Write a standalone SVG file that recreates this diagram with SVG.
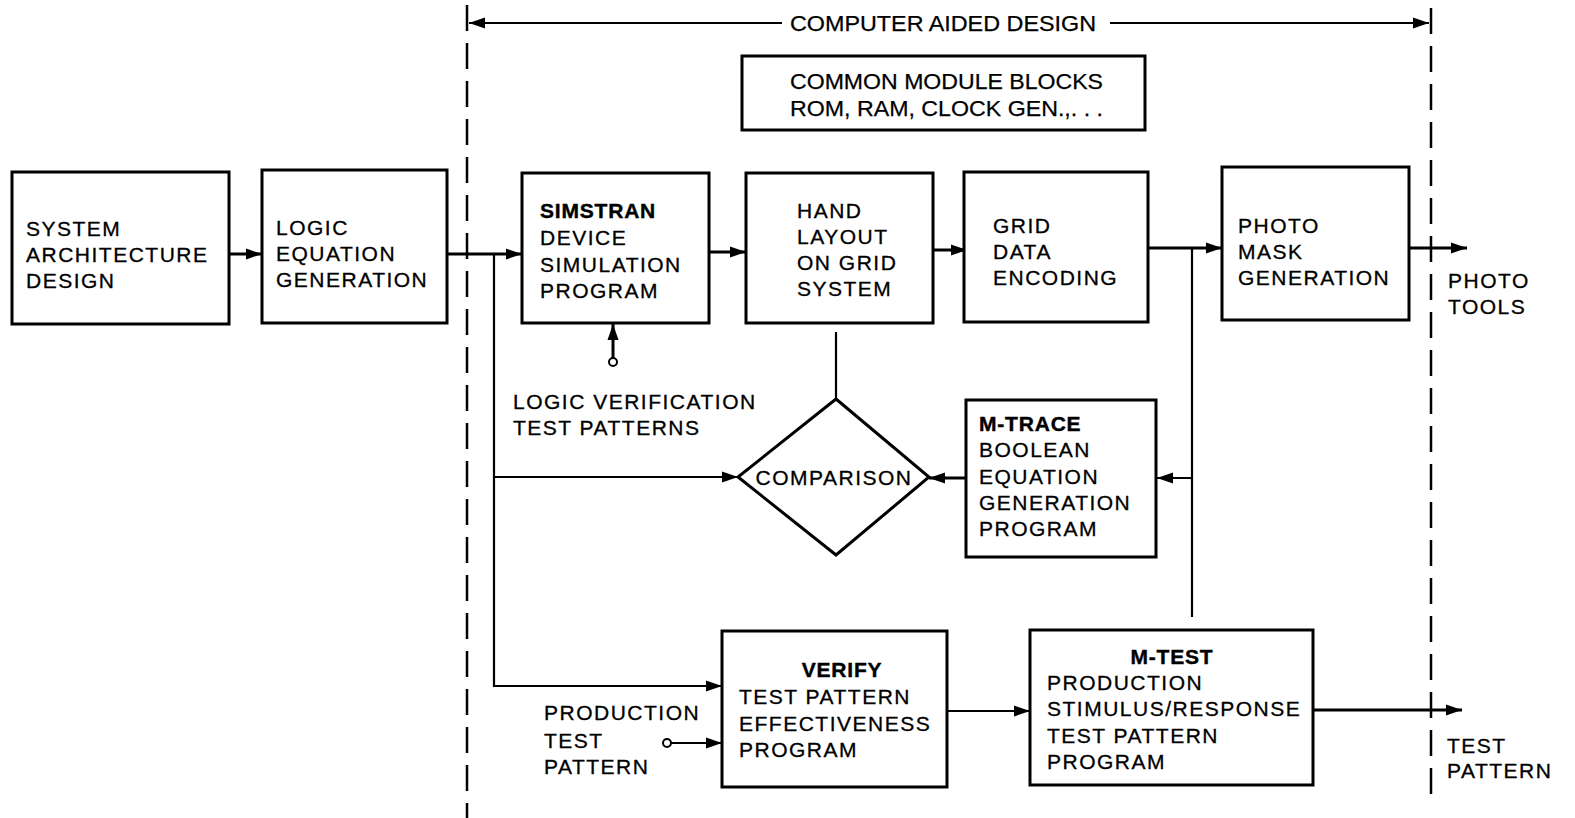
<svg xmlns="http://www.w3.org/2000/svg" width="1575" height="818" viewBox="0 0 1575 818">
<style>
.box{fill:#fff;stroke:#000;stroke-width:3}
.t{font-family:"Liberation Sans",Arial,sans-serif;font-size:21px;letter-spacing:1.5px;fill:#000;stroke:#000;stroke-width:0.3}
.b{font-weight:bold;letter-spacing:0.8px;stroke-width:0.4}
.c{font-family:"Liberation Sans",Arial,sans-serif;font-size:22.5px;fill:#000;stroke:#000;stroke-width:0.25}
.ln{fill:none;stroke:#000;stroke-width:3}
.thin{fill:none;stroke:#000;stroke-width:2.2}
.dash{fill:none;stroke:#000;stroke-width:2.5;stroke-dasharray:26 12}
</style>
<defs>
<marker id="ah" markerUnits="userSpaceOnUse" markerWidth="17" markerHeight="12" refX="16" refY="6" orient="auto">
<path d="M0,0.5 L16,6 L0,11.5 z" fill="#000"/>
</marker>
</defs>

<g id="boundaries">
<path class="dash" d="M467,5 V818"/>
<path class="dash" d="M1431,8 V795"/>
</g>

<g id="cad-label">
<path class="thin" d="M782,23 H469" marker-end="url(#ah)"/>
<path class="thin" d="M1110,23 H1429" marker-end="url(#ah)"/>
<text class="c" x="790" y="31" textLength="306" lengthAdjust="spacingAndGlyphs">COMPUTER AIDED DESIGN</text>
</g>

<g id="common">
<rect class="box" x="742" y="56" width="403" height="74"/>
<text class="c" x="790" y="89" textLength="313" lengthAdjust="spacingAndGlyphs">COMMON MODULE BLOCKS</text>
<text class="c" x="790" y="116" textLength="313" lengthAdjust="spacingAndGlyphs">ROM, RAM, CLOCK GEN.,. . .</text>
</g>

<g id="connectors">
<path class="ln" d="M229,254 H262" marker-end="url(#ah)"/>
<path class="ln" d="M447,254 H522" marker-end="url(#ah)"/>
<path class="thin" d="M494,254 V686 H722" marker-end="url(#ah)"/>
<path class="thin" d="M494,477 H738" marker-end="url(#ah)"/>
<path class="ln" d="M613,358 V324" marker-end="url(#ah)"/>
<path class="ln" d="M709,252 H746" marker-end="url(#ah)"/>
<path class="ln" d="M933,250 H967" marker-end="url(#ah)"/>
<path class="ln" d="M1148,248 H1222" marker-end="url(#ah)"/>
<path class="thin" d="M1192,248 V617"/>
<path class="thin" d="M1192,478 H1157" marker-end="url(#ah)"/>
<path class="ln" d="M967,478 H929" marker-end="url(#ah)"/>
<path class="thin" d="M836,332 V399"/>
<path class="ln" d="M1410,248 H1467" marker-end="url(#ah)"/>
<path class="thin" d="M671,743 H722" marker-end="url(#ah)"/>
<path class="thin" d="M947,711 H1030" marker-end="url(#ah)"/>
<path class="ln" d="M1313,710 H1462" marker-end="url(#ah)"/>
<circle cx="613" cy="362" r="4" fill="#fff" stroke="#000" stroke-width="2"/>
<circle cx="667" cy="743" r="4" fill="#fff" stroke="#000" stroke-width="2"/>
</g>

<g id="system-architecture">
<rect class="box" x="12" y="172" width="217" height="152"/>
<text class="t" x="26" y="236">SYSTEM</text>
<text class="t" x="26" y="262">ARCHITECTURE</text>
<text class="t" x="26" y="288">DESIGN</text>
</g>

<g id="logic-equation">
<rect class="box" x="262" y="170" width="185" height="153"/>
<text class="t" x="276" y="235">LOGIC</text>
<text class="t" x="276" y="261">EQUATION</text>
<text class="t" x="276" y="287">GENERATION</text>
</g>

<g id="simstran">
<rect class="box" x="522" y="173" width="187" height="150"/>
<text class="t b" x="540" y="218">SIMSTRAN</text>
<text class="t" x="540" y="245">DEVICE</text>
<text class="t" x="540" y="272">SIMULATION</text>
<text class="t" x="540" y="298">PROGRAM</text>
</g>

<g id="logic-verification-label">
<text class="t" x="513" y="409">LOGIC VERIFICATION</text>
<text class="t" x="513" y="435">TEST PATTERNS</text>
</g>

<g id="hand-layout">
<rect class="box" x="746" y="173" width="187" height="150"/>
<text class="t" x="797" y="218">HAND</text>
<text class="t" x="797" y="244">LAYOUT</text>
<text class="t" x="797" y="270">ON GRID</text>
<text class="t" x="797" y="296">SYSTEM</text>
</g>

<g id="grid-data">
<rect class="box" x="964" y="172" width="184" height="150"/>
<text class="t" x="993" y="233">GRID</text>
<text class="t" x="993" y="259">DATA</text>
<text class="t" x="993" y="285">ENCODING</text>
</g>

<g id="photo-mask">
<rect class="box" x="1222" y="167" width="187" height="153"/>
<text class="t" x="1238" y="233">PHOTO</text>
<text class="t" x="1238" y="259">MASK</text>
<text class="t" x="1238" y="285">GENERATION</text>
</g>

<g id="photo-tools">
<text class="t" x="1448" y="288">PHOTO</text>
<text class="t" x="1448" y="314">TOOLS</text>
</g>

<g id="comparison">
<polygon points="836,399 929,477 836,555 738,477" fill="#fff" stroke="#000" stroke-width="3"/>
<text class="t" x="834" y="485" text-anchor="middle" letter-spacing="0.2">COMPARISON</text>
</g>

<g id="m-trace">
<rect class="box" x="966" y="400" width="190" height="157"/>
<text class="t b" x="979" y="431">M-TRACE</text>
<text class="t" x="979" y="457">BOOLEAN</text>
<text class="t" x="979" y="484">EQUATION</text>
<text class="t" x="979" y="510">GENERATION</text>
<text class="t" x="979" y="536">PROGRAM</text>
</g>

<g id="verify">
<rect class="box" x="722" y="631" width="225" height="156"/>
<text class="t b" x="842" y="677" text-anchor="middle">VERIFY</text>
<text class="t" x="739" y="704">TEST PATTERN</text>
<text class="t" x="739" y="731">EFFECTIVENESS</text>
<text class="t" x="739" y="757">PROGRAM</text>
</g>

<g id="production-test-pattern-label">
<text class="t" x="544" y="720">PRODUCTION</text>
<text class="t" x="544" y="748">TEST</text>
<text class="t" x="544" y="774">PATTERN</text>
</g>

<g id="m-test">
<rect class="box" x="1030" y="630" width="283" height="155"/>
<text class="t b" x="1172" y="664" text-anchor="middle">M-TEST</text>
<text class="t" x="1047" y="690">PRODUCTION</text>
<text class="t" x="1047" y="716">STIMULUS/RESPONSE</text>
<text class="t" x="1047" y="743">TEST PATTERN</text>
<text class="t" x="1047" y="769">PROGRAM</text>
</g>

<g id="test-pattern-out">
<text class="t" x="1447" y="753">TEST</text>
<text class="t" x="1447" y="778">PATTERN</text>
</g>
</svg>
